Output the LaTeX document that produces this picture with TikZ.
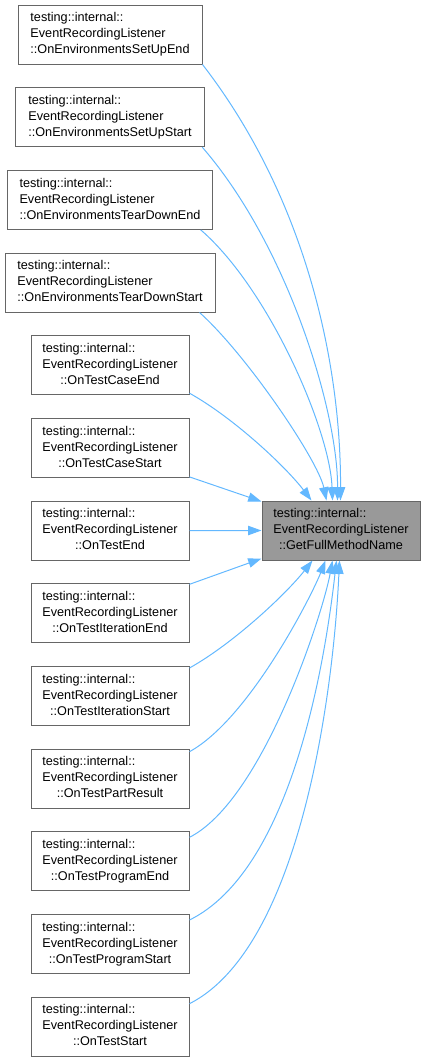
\documentclass[tikz,border=0pt]{standalone}
\usepackage{fontspec}
\setmainfont{Liberation Sans}
\usetikzlibrary{arrows.meta,calc}
\definecolor{nodeborder}{HTML}{666666}
\definecolor{mainfill}{HTML}{999999}
\definecolor{edgeblue}{HTML}{63B8FF}
\newcommand{\fnlabel}[1]{\begin{tabular}{@{}l@{}}testing::internal::\\EventRecordingListener\\\multicolumn{1}{@{}c@{}}{#1}\end{tabular}}
\begin{document}
\begin{tikzpicture}[x=0.75pt,y=-0.75pt,
  fnbox/.style={rectangle,draw=nodeborder,fill=white,line width=0.75pt,
    minimum height=44.25pt,inner sep=0pt,font=\fontsize{9.5}{12}\selectfont},
  mainbox/.style={fnbox,fill=mainfill},
  calledge/.style={draw=edgeblue,line width=0.75pt,-{Triangle[length=10pt,width=7pt]}}]
\useasboundingbox (0,0) rectangle (425,1061);
\node[fnbox,minimum width=138pt] (b1) at (110,34.5) {\fnlabel{::OnEnvironmentsSetUpEnd}};
\node[fnbox,minimum width=141.4pt] (b2) at (110,117.2) {\fnlabel{::OnEnvironmentsSetUpStart}};
\node[fnbox,minimum width=153.4pt] (b3) at (110,199.9) {\fnlabel{::OnEnvironmentsTearDownEnd}};
\node[fnbox,minimum width=157.5pt] (b4) at (110,282.5) {\fnlabel{::OnEnvironmentsTearDownStart}};
\node[fnbox,minimum width=118.5pt] (b5) at (110,365.2) {\fnlabel{::OnTestCaseEnd}};
\node[fnbox,minimum width=118.5pt] (b6) at (110,447.9) {\fnlabel{::OnTestCaseStart}};
\node[fnbox,minimum width=118.5pt] (b7) at (110,530.6) {\fnlabel{::OnTestEnd}};
\node[fnbox,minimum width=118.5pt] (b8) at (110,613.3) {\fnlabel{::OnTestIterationEnd}};
\node[fnbox,minimum width=118.5pt] (b9) at (110,696) {\fnlabel{::OnTestIterationStart}};
\node[fnbox,minimum width=118.5pt] (b10) at (110,778.7) {\fnlabel{::OnTestPartResult}};
\node[fnbox,minimum width=118.5pt] (b11) at (110,861.3) {\fnlabel{::OnTestProgramEnd}};
\node[fnbox,minimum width=118.5pt] (b12) at (110,944) {\fnlabel{::OnTestProgramStart}};
\node[fnbox,minimum width=118.5pt] (b13) at (110,1026.7) {\fnlabel{::OnTestStart}};
\node[mainbox,minimum width=118.5pt] (m) at (341,530.5) {\fnlabel{::GetFullMethodName}};
% edges from above
\draw[calledge] (b1.south east) .. controls (305,197) and (341,361) .. ($(m.north west)+(79,0)$);
\draw[calledge] ($(b2.south east)+(-2.5,0)$) .. controls (288,246) and (338,412) .. ($(m.north west)+(76,0)$);
\draw[calledge] ($(b3.south east)+(-12,0)$) .. controls (269,289) and (330,430) .. ($(m.north west)+(71,0)$);
\draw[calledge] ($(b4.south east)+(-16,0)$) .. controls (246,354) and (318,460) .. ($(m.north west)+(65,0)$);
\draw[calledge] ($(b5.south east)+(0,-2)$) .. controls (234,418) and (286,467) .. ($(m.north west)+(50,0)$);
% straight edges
\draw[calledge] ($(b6.south east)+(0,-1)$) -- ($(m.north west)+(0,1)$);
\draw[calledge] (b7.east) -- (m.west);
\draw[calledge] ($(b8.north east)+(0,1)$) -- ($(m.south west)+(0,-2)$);
% edges from below
\draw[calledge] ($(b9.north east)+(0,2)$) .. controls (234,643) and (286,594) .. ($(m.south west)+(51,0)$);
\draw[calledge] ($(b10.north east)+(0,3)$) .. controls (249.5,718.7) and (312,595) .. ($(m.south west)+(64,0)$);
\draw[calledge] ($(b11.north east)+(0,6)$) .. controls (263,800) and (323,613) .. ($(m.south west)+(71,0)$);
\draw[calledge] ($(b12.north east)+(0,6)$) .. controls (291.6,869.7) and (325,662) .. ($(m.south west)+(75,0)$);
\draw[calledge] ($(b13.north east)+(0,7)$) .. controls (300.8,947) and (333.6,691) .. ($(m.south west)+(78,0)$);
\end{tikzpicture}
\end{document}
